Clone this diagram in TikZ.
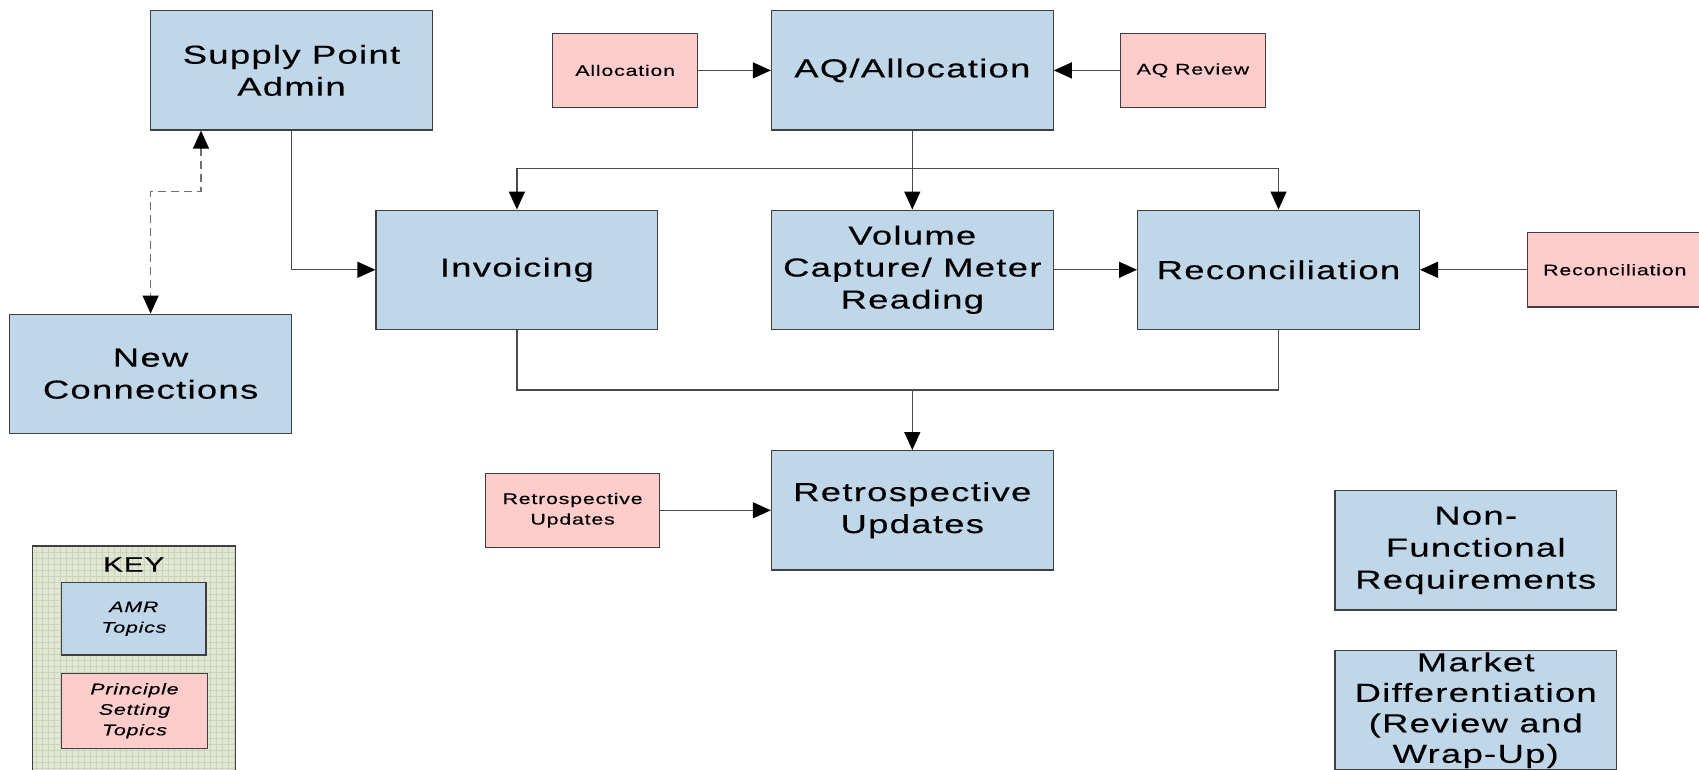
\documentclass[tikz,border=0pt]{standalone}
\usepackage{fontspec}
\setmainfont{Liberation Sans}
\newfontfamily\wf[FakeStretch=1.4,LetterSpace=5,FakeBold=0.3]{Liberation Sans}
\usetikzlibrary{arrows.meta,calc}
\definecolor{topicblue}{HTML}{C0D7EA}
\definecolor{princpink}{HTML}{FFCCCC}
\definecolor{edgegrey}{HTML}{404040}
\definecolor{linegrey}{HTML}{4A4A4A}
\definecolor{dashgrey}{HTML}{707070}
\definecolor{keybg}{HTML}{E2E7D4}
\definecolor{keygrid}{HTML}{CBD3BB}
\tikzset{
  topic/.style={rectangle, draw=edgegrey, line width=1.3pt, fill=topicblue,
    minimum width=281.7pt, minimum height=119.2pt, inner sep=0pt, align=center,
    font=\wf\fontsize{26}{32}\selectfont},
  princ/.style={rectangle, draw=edgegrey, line width=1.3pt, fill=princpink,
    minimum width=145.2pt, minimum height=73.7pt, inner sep=0pt, align=center,
    font=\wf\fontsize{15.3}{20.5}\selectfont},
  keyitem/.style={rectangle, draw=edgegrey, line width=1.3pt, inner sep=0pt, align=center,
    font=\wf\itshape\fontsize{15.3}{20.5}\selectfont},
  tip/.style={-{Triangle[length=18pt,width=16pt,color=black,fill=black]}},
  plainline/.style={draw=linegrey, line width=1.3pt},
  conn/.style={plainline, tip},
  dconn/.style={draw=dashgrey, line width=1.3pt, dash pattern=on 8pt off 5pt,
    {Triangle[length=18pt,width=16pt,color=black,fill=black]}-{Triangle[length=18pt,width=16pt,color=black,fill=black]}}
}
\begin{document}
\begin{tikzpicture}[x=1pt,y=-1pt]
\useasboundingbox (0,0) rectangle (1699,770);

% KEY
\begin{scope}
  \clip (32.3,546) rectangle (235.3,790);
  \fill[keybg] (32.3,546) rectangle (235.3,790);
  \draw[keygrid, line width=0.6pt, step=6pt] (32.3,546) grid (235.3,790);
\end{scope}
\draw[edgegrey, line width=1.3pt] (32.3,790) -- (32.3,546) -- (235.3,546) -- (235.3,790);
\node[font=\wf\fontsize{21}{25}\selectfont] (keytitle) at (133.8,564.5) {KEY};
\node[keyitem, fill=topicblue, minimum width=144.3pt, minimum height=72.7pt] (amr) at (133.9,618.7) {AMR\\Topics};
\node[keyitem, fill=princpink, minimum width=145.6pt, minimum height=75pt] (pst) at (134.5,710.8) {Principle\\Setting\\Topics};

% topics
\node[topic] (spa) at (291.5,70.4) {Supply Point\\Admin};
\node[topic] (aq) at (912.3,70.4) {AQ/Allocation};
\node[topic] (inv) at (516.9,269.8) {Invoicing};
\node[topic] (vol) at (912.3,269.8) {Volume\\Capture/ Meter\\Reading};
\node[topic] (rec) at (1278.5,269.8) {Reconciliation};
\node[topic] (nc) at (150.6,373.8) {New\\Connections};
\node[topic] (retro) at (912.3,510.3) {Retrospective\\Updates};
\node[topic] (nfr) at (1475.7,550.4) {Non-\\Functional\\Requirements};
\node[topic, font=\wf\fontsize{26}{30.5}\selectfont] (mkt) at (1475.7,710.3) {Market\\Differentiation\\(Review and\\Wrap-Up)};

% principle topics
\node[princ] (palloc) at (625.2,70.4) {Allocation};
\node[princ] (paq) at (1192.9,70.4) {AQ Review};
\node[princ, minimum width=175pt, minimum height=74.4pt] (prec) at (1614.8,269.8) {Reconciliation};
\node[princ, minimum width=174.4pt] (pretro) at (572.6,510.3) {Retrospective\\Updates};

% connectors
\draw[conn] (palloc.east) -- (aq.west);
\draw[conn] (paq.west) -- (aq.east);
\coordinate (split) at (912.3,168.8);
\draw[plainline] (aq.south) -- (split);
\draw[conn] (split) -| (inv.north);
\draw[conn] (split) -| (rec.north);
\draw[conn] (split) -- (vol.north);
\draw[conn] (vol.east) -- (rec.west);
\draw[conn] (prec.west) -- (rec.east);
\coordinate (merge) at (912.3,390);
\draw[plainline] (inv.south) |- (merge);
\draw[plainline] (rec.south) |- (merge);
\draw[conn] (merge) -- (retro.north);
\draw[conn] (pretro.east) -- (retro.west);
\draw[conn] (spa.south) |- (inv.west);
\draw[dconn] ([xshift=51pt]spa.south west) -- ++(0,60.7) -| (nc.north);
\end{tikzpicture}
\end{document}
